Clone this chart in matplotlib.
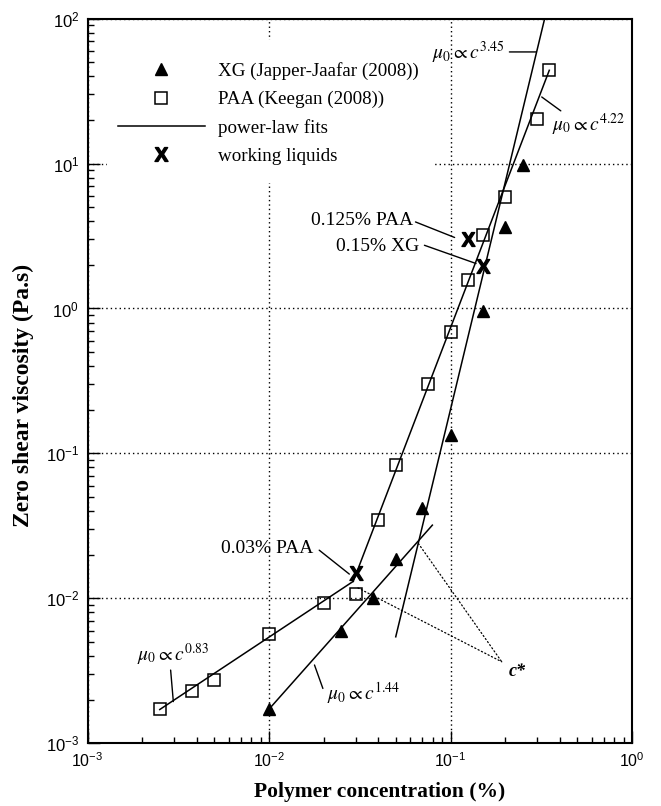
import matplotlib
matplotlib.use("Agg")
import matplotlib.pyplot as plt
from matplotlib.patches import Rectangle
from matplotlib.lines import Line2D
from matplotlib.path import Path
from matplotlib.textpath import TextPath
from matplotlib.font_manager import FontProperties

plt.rcParams['font.family'] = 'Liberation Sans'
plt.rcParams['mathtext.fontset'] = 'stix'
plt.rcParams['axes.unicode_minus'] = False

# XG (Japper-Jaafar 2008)
xg_c = [0.01, 0.025, 0.0375, 0.05, 0.07, 0.1, 0.15, 0.2, 0.25]
xg_mu = [0.00172, 0.00598, 0.0100, 0.0186, 0.0418, 0.134, 0.958, 3.66, 9.73]

# PAA (Keegan 2008)
paa_c = [0.0025, 0.00375, 0.005, 0.01, 0.02, 0.03, 0.04, 0.05, 0.075,
         0.1, 0.125, 0.15, 0.2, 0.3, 0.35]
paa_mu = [0.00172, 0.00231, 0.00272, 0.00567, 0.00924, 0.0108, 0.0345,
          0.0826, 0.299, 0.683, 1.57, 3.19, 5.89, 20.2, 44.0]

# working liquids
wl_c = [0.03, 0.125, 0.15]
wl_mu = [0.0149, 3.04, 1.96]

# power-law fit segments (end points)
paa_lo_c, paa_lo_mu = [0.0025, 0.0291], [0.00171, 0.0131]
paa_hi_c, paa_hi_mu = [0.0291, 0.35], [0.0131, 44.0]
xg_lo_c, xg_lo_mu = [0.01, 0.0794], [0.00172, 0.032]
xg_hi_c, xg_hi_mu = [0.0499, 0.33], [0.00543, 100.0]

serif = 'Liberation Serif'

# bold sans "X" marker
tp = TextPath((0, 0), 'X', prop=FontProperties(family='Liberation Sans', weight='bold'))
ext = tp.get_extents()
xmark = Path(tp.vertices - [(ext.x0 + ext.x1) / 2, (ext.y0 + ext.y1) / 2], tp.codes)

fig = plt.figure(figsize=(6.61, 8.06), dpi=100)
ax = fig.add_axes([0.1324, 0.0778, 0.8238, 0.8991])
ax.set_xscale('log')
ax.set_yscale('log')
ax.set_xlim(1e-3, 1)
ax.set_ylim(1e-3, 1e2)

ax.set_axisbelow(True)
ax.grid(True, which='major', color='black', linestyle=(0, (1, 2.2)), linewidth=1.0)
ax.add_patch(Rectangle((0.036, 0.773), 0.602, 0.197, transform=ax.transAxes,
                       facecolor='white', edgecolor='none', zorder=1))

for s in ax.spines.values():
    s.set_linewidth(1.5)
ax.tick_params(which='both', direction='in', top=False, right=False, width=1)
ax.tick_params(which='major', length=8.5, pad=6)
ax.tick_params(which='minor', length=4)
ax.tick_params(axis='x', labelsize=11.5)
ax.tick_params(axis='y', labelsize=12)

lw = 1.1
ax.plot(paa_lo_c, paa_lo_mu, color='black', lw=lw, zorder=2)
ax.plot(paa_hi_c, paa_hi_mu, color='black', lw=lw, zorder=2)
ax.plot(xg_lo_c, xg_lo_mu, color='black', lw=lw, zorder=2)
ax.plot(xg_hi_c, xg_hi_mu, color='black', lw=lw, zorder=2)

ax.plot(xg_c, xg_mu, linestyle='none', marker='^', markersize=8.5,
        color='black', zorder=3)
ax.plot(paa_c, paa_mu, linestyle='none', marker='s', markersize=8,
        markerfacecolor='none', markeredgecolor='black', markeredgewidth=1.1, zorder=3)
ax.plot(wl_c, wl_mu, linestyle='none', marker=xmark, markersize=10,
        color='black', zorder=4)

# legend
handles = [
    Line2D([], [], linestyle='none', marker='^', markersize=8.5, color='black'),
    Line2D([], [], linestyle='none', marker='s', markersize=8, markerfacecolor='none',
           markeredgecolor='black', markeredgewidth=1.1),
    Line2D([], [], color='black', lw=lw),
    Line2D([], [], linestyle='none', marker=xmark, markersize=10, color='black'),
]
labels = ['XG (Japper-Jaafar (2008))', 'PAA (Keegan (2008))',
          'power-law fits', 'working liquids']
ax.legend(handles, labels, loc='upper left', bbox_to_anchor=(0.056, 0.940),
          frameon=False, borderpad=0, handlelength=4.57, handletextpad=0.7,
          labelspacing=0.57, borderaxespad=0,
          prop=FontProperties(family=serif, size=13.7))

# annotations
tkw = dict(family=serif, fontsize=14, va='center', zorder=5)
lkw = dict(arrowstyle='-', color='black', lw=1.0, shrinkA=0, shrinkB=0)

def leader(p0, p1, **kw):
    props = dict(lkw)
    props.update(kw)
    ax.annotate('', xy=p1, xytext=p0, arrowprops=props)

ax.text(0.0626, 4.06, '0.125% PAA', ha='right', **tkw)
leader((0.0641, 3.955), (0.1053, 3.09))
ax.text(0.0671, 2.66, '0.15% XG', ha='right', **tkw)
leader((0.0718, 2.73), (0.1382, 2.043))
ax.text(0.01754, 0.0221, '0.03% PAA', ha='right', **tkw)
leader((0.0189, 0.0215), (0.0277, 0.0147))

mkw = dict(fontsize=14, va='center', ha='left', zorder=5)
ax.text(0.0788, 57.6, r'$\mu_0 \propto c^{3.45}$', **mkw)
leader((0.211, 58.9), (0.296, 58.9))
ax.text(0.361, 18.4, r'$\mu_0 \propto c^{4.22}$', **mkw)
leader((0.318, 28.8), (0.405, 23.1))
ax.text(0.00188, 0.00406, r'$\mu_0 \propto c^{0.83}$', **mkw)
leader((0.00287, 0.0032), (0.00297, 0.00194))
ax.text(0.0208, 0.00221, r'$\mu_0 \propto c^{1.44}$', **mkw)
leader((0.0178, 0.00347), (0.0198, 0.00239))

ax.text(0.2316, 0.00312, 'c*', family=serif, fontsize=13, fontweight='bold',
        fontstyle='italic', ha='center', va='center')
leader((0.0665, 0.0239), (0.1915, 0.00365), linestyle=(0, (1, 2)), lw=0.9)
leader((0.0309, 0.0118), (0.1915, 0.00365), linestyle=(0, (1, 2)), lw=0.9)

ax.set_xlabel('Polymer concentration (%)', family=serif, fontsize=15.5,
              fontweight='bold', va='center')
ax.xaxis.set_label_coords(0.537, -0.0668)
ax.set_ylabel('Zero shear viscosity (Pa.s)', family=serif, fontsize=17,
              fontweight='bold', va='center')
ax.yaxis.set_label_coords(-0.1185, 0.48)

fig.savefig('out.png', dpi=100)
